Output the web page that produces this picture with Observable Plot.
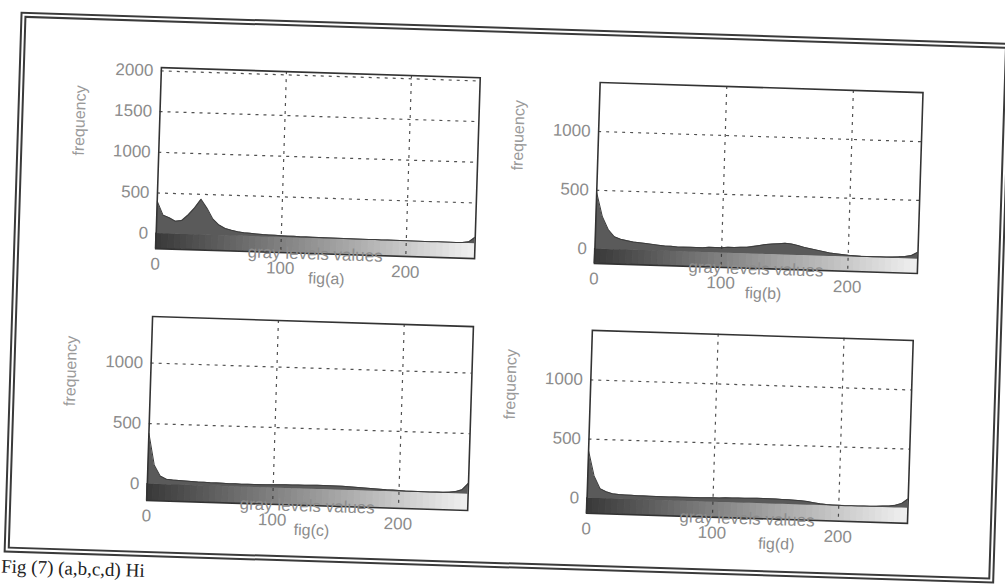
<!DOCTYPE html>
<html><head><meta charset="utf-8">
<script src="https://cdn.jsdelivr.net/npm/d3@7"></script>
<script src="https://cdn.jsdelivr.net/npm/@observablehq/plot@0.6"></script>
<style>
html,body{margin:0;padding:0;background:#fff;}
#page{position:relative;width:1005px;height:587px;overflow:hidden;background:#fff;font-family:"Liberation Sans",Arial,sans-serif;}
#rot{position:absolute;left:0;top:0;width:1005px;height:587px;transform:rotate(1.8deg);transform-origin:502px 293px;}
#border{position:absolute;left:12px;top:27px;width:979px;height:529px;border:6px double #3a3a3a;}
.panel{position:absolute;}
#caption{position:absolute;left:10px;top:572px;font-family:"Liberation Serif",serif;font-size:19px;line-height:20px;color:#222;white-space:nowrap;}
</style></head><body>
<div id="page"><div id="rot"><div id="border"></div><div id="caption">Fig (7) (a,b,c,d) Hi</div></div></div>
<script>
// gray level bins (step 5)
const grayLevels = [0,5,10,15,20,25,30,35,40,45,50,55,60,65,70,75,80,85,90,95,100,105,110,115,120,125,130,135,140,145,150,155,160,165,170,175,180,185,190,195,200,205,210,215,220,225,230,235,240,245,250,255];
const countsA = [400,230,200,160,170,240,330,440,330,200,130,90,70,55,45,40,35,30,28,25,22,20,20,18,18,16,15,15,14,14,13,12,12,12,11,11,10,10,10,10,9,9,8,8,8,8,8,8,8,10,20,80];
const countsB = [480,280,170,110,90,80,70,65,60,55,50,45,45,40,40,40,40,40,45,45,45,50,50,55,55,65,75,85,90,95,100,95,85,70,60,50,40,30,25,20,15,12,10,10,10,10,10,12,15,20,30,60];
const countsC = [420,160,70,45,40,38,35,32,30,30,28,28,26,25,25,24,24,25,25,26,27,28,30,30,32,32,33,34,35,34,33,32,30,28,25,22,20,18,15,14,12,10,10,9,9,9,10,10,12,18,35,90];
const countsD = [400,190,85,60,45,40,38,36,35,35,34,34,33,33,33,34,34,35,35,36,37,38,40,40,42,42,43,44,45,44,43,42,40,38,35,30,22,15,10,8,7,6,6,6,7,8,10,12,15,22,40,80];
const yTicksA = [0,500,1000,1500,2000];
const yTicksBCD = [0,500,1000];
const xTicks = [0,100,200];
const panelLabels = ["fig(a)","fig(b)","fig(c)","fig(d)"];
const yLabel = "frequency";
const xLabel = "gray levels values";

const panels = [
  {counts: countsA, yTicks: yTicksA, yDomain: [-184, 2040], label: panelLabels[0], L: 154, T: 78, W: 319, H: 181, figDx: 12},
  {counts: countsB, yTicks: yTicksBCD, yDomain: [-122, 1417], label: panelLabels[1], L: 593, T: 79, W: 323, H: 181, figDx: 8},
  {counts: countsC, yTicks: yTicksBCD, yDomain: [-135, 1384], label: panelLabels[2], L: 153, T: 327, W: 321, H: 184, figDx: 5},
  {counts: countsD, yTicks: yTicksBCD, yDomain: [-127, 1419], label: panelLabels[3], L: 593, T: 327, W: 321, H: 183, figDx: 30}
];

const ramp = d3.scaleLinear([0, 255], ["#3a3a3a", "#f2f2f2"]);
const mL = 100, mR = 12, mT = 10, mB = 50;
const textGray = "#8c8c8c";
const rot = document.getElementById("rot");

for (const p of panels) {
  const data = grayLevels.map((g, i) => ({level: g, count: p.counts[i]}));
  const band = grayLevels.map(g => ({x1: g, x2: Math.min(g + 5, 255), shade: ramp(g)}));
  const ymin = p.yDomain[0];
  const chart = Plot.plot({
    width: p.W + mL + mR,
    height: p.H + mT + mB,
    marginLeft: mL, marginRight: mR, marginTop: mT, marginBottom: mB,
    style: {fontFamily: "Liberation Sans, Arial, sans-serif", fontSize: "17px", background: "transparent"},
    x: {domain: [0, 255]},
    y: {domain: p.yDomain},
    color: {type: "identity"},
    marks: [
      Plot.rect(band, {x1: "x1", x2: "x2", y1: () => ymin, y2: () => 0, fill: "shade", stroke: "shade", strokeWidth: 1, inset: 0}),
      Plot.area(data, {x1: "level", y1: () => 0, y2: "count", fill: "#5a5a5a", curve: "linear", clip: true}),
      Plot.line(data, {x: "level", y: "count", stroke: "#3c3c3c", strokeWidth: 1, curve: "linear", clip: true}),
      Plot.gridY(p.yTicks.filter(t => t > 0), {stroke: "#333", strokeOpacity: 0.85, strokeWidth: 1.2, strokeDasharray: "3,5"}),
      Plot.gridX(xTicks.filter(t => t > 0), {stroke: "#333", strokeOpacity: 0.85, strokeWidth: 1.2, strokeDasharray: "3,5"}),
      Plot.frame({stroke: "#333", strokeWidth: 1.6}),
      Plot.axisY(p.yTicks, {tickSize: 0, tickPadding: 8, fontSize: 17, fill: textGray, label: null, tickFormat: d => String(d)}),
      Plot.axisX(xTicks, {tickSize: 0, tickPadding: 9, fontSize: 17, fill: textGray, label: null, tickFormat: d => String(d)}),
      Plot.text([yLabel], {text: d => d, frameAnchor: "left", dx: -80, rotate: -90, fontSize: 16, fill: "#9a9a9a"}),
      Plot.text([xLabel], {text: d => d, frameAnchor: "bottom", dy: 6, fontSize: 17, fill: textGray}),
      Plot.text([p.label], {text: d => d, frameAnchor: "bottom", dy: 30, dx: p.figDx, fontSize: 16, fill: textGray})
    ]
  });
  chart.classList.add("panel");
  chart.style.left = (p.L - mL) + "px";
  chart.style.top = (p.T - mT) + "px";
  rot.appendChild(chart);
}
</script>
</body></html>
